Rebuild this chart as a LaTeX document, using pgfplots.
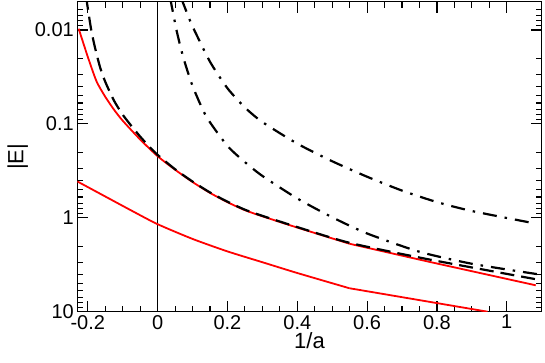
\documentclass[border=0pt]{standalone}
\usepackage{pgfplots}
\pgfplotsset{compat=1.18}
\usepackage{fontspec}
\setmainfont{Liberation Sans}
\begin{document}
\begin{tikzpicture}
\begin{axis}[
  scale only axis,
  width=464.4pt, height=310pt,
  xmin=-0.23, xmax=1.1,
  ymode=log, y dir=reverse,
  ymin=0.005, ymax=10,
  xtick={-0.2,0,0.2,0.4,0.6,0.8,1},
  xticklabels={-0.2,0,0.2,0.4,0.6,0.8,1},
  minor x tick num=3,
  ytick={0.01,0.1,1,10},
  yticklabels={0.01,0.1,1,10},
  minor ytick={0.006,0.007,0.008,0.009,0.02,0.03,0.04,0.05,0.06,0.07,0.08,0.09,
    0.2,0.3,0.4,0.5,0.6,0.7,0.8,0.9,2,3,4,5,6,7,8,9},
  tick align=inside, tick pos=both,
  major tick length=11pt, minor tick length=6pt,
  every tick/.style={black, line width=1.1pt},
  every minor tick/.style={black, line width=1.1pt},
  axis line style={black, line width=1.2pt},
  tick label style={font=\fontsize{20}{24}\selectfont},
  label style={font=\fontsize{22}{26}\selectfont},
  xlabel={1/a}, ylabel={|E|},
  xlabel style={yshift=4pt},
  /pgf/number format/assume math mode=true,
  clip=true,
]
% vertical line at 1/a = 0
\addplot[black, line width=1pt] coordinates {(0,0.005) (0,10)};
% upper red curve
\addplot[red, line width=1.8pt, smooth, tension=0.4] coordinates {
  (-0.226,0.0097) (-0.2,0.0193) (-0.175,0.0352) (-0.15,0.0514)
  (-0.125,0.0705) (-0.1,0.0925) (-0.05,0.1466) (0,0.2208)
  (0.05,0.3076) (0.1,0.4159) (0.15,0.543) (0.2,0.682)
  (0.25,0.830) (0.3,0.964) (0.4,1.271) (0.55,1.892)};
\addplot[red, line width=1.8pt] coordinates {
  (0.55,1.892) (0.778,2.944) (1.083,5.236)};
% lower red curve
\addplot[red, line width=1.8pt, smooth, tension=0.4] coordinates {
  (-0.23,0.410) (-0.15,0.593) (-0.07,0.857) (0,1.170)
  (0.1,1.679) (0.2,2.280) (0.3,2.972) (0.4,3.873)
  (0.549,5.623)};
\addplot[red, line width=1.8pt] coordinates {
  (0.549,5.623) (0.945,10.0)};
% dashed
\addplot[black, line width=2.2pt, dash pattern=on 14pt off 7pt, smooth, tension=0.4] coordinates {
  (-0.205,0.00434) (-0.2,0.00585) (-0.19,0.01005) (-0.18,0.01503)
  (-0.165,0.0248) (-0.15,0.0356) (-0.125,0.0565) (-0.1,0.0798)
  (-0.075,0.1053) (-0.05,0.1365) (-0.025,0.1728) (0,0.2138)
  (0.05,0.304) (0.1,0.411) (0.15,0.537) (0.2,0.674)
  (0.25,0.820) (0.3,0.953) (0.4,1.256) (0.55,1.849)
  (0.778,2.780) (1.083,4.508)};
% inner dash-dot
\addplot[black, line width=2.2pt, dash pattern=on 14pt off 8pt on 2.5pt off 8pt, smooth, tension=0.4] coordinates {
  (0.036,0.00457) (0.054,0.0100) (0.073,0.01928) (0.1,0.0394)
  (0.14,0.0842) (0.2,0.1716) (0.25,0.2553) (0.3,0.3584)
  (0.4,0.6228) (0.5,0.9874) (0.6,1.469) (0.75,2.301)
  (0.9,3.087) (1.087,3.981)};
% outer dash-dot
\addplot[black, line width=2.2pt, dash pattern=on 14pt off 8pt on 2.5pt off 8pt, smooth, tension=0.4] coordinates {
  (0.068,0.00463) (0.092,0.00783) (0.1,0.00918) (0.15,0.02178)
  (0.2,0.04174) (0.25,0.06689) (0.3,0.09561) (0.4,0.1624)
  (0.5,0.2500) (0.6,0.3656) (0.7,0.5135) (0.8,0.6808)
  (0.9,0.8472) (1.083,1.153)};
\end{axis}
\pgfresetboundingbox
\path (-77.3pt,-51.3pt) rectangle (467.7pt,311.7pt);
\end{tikzpicture}
\end{document}
